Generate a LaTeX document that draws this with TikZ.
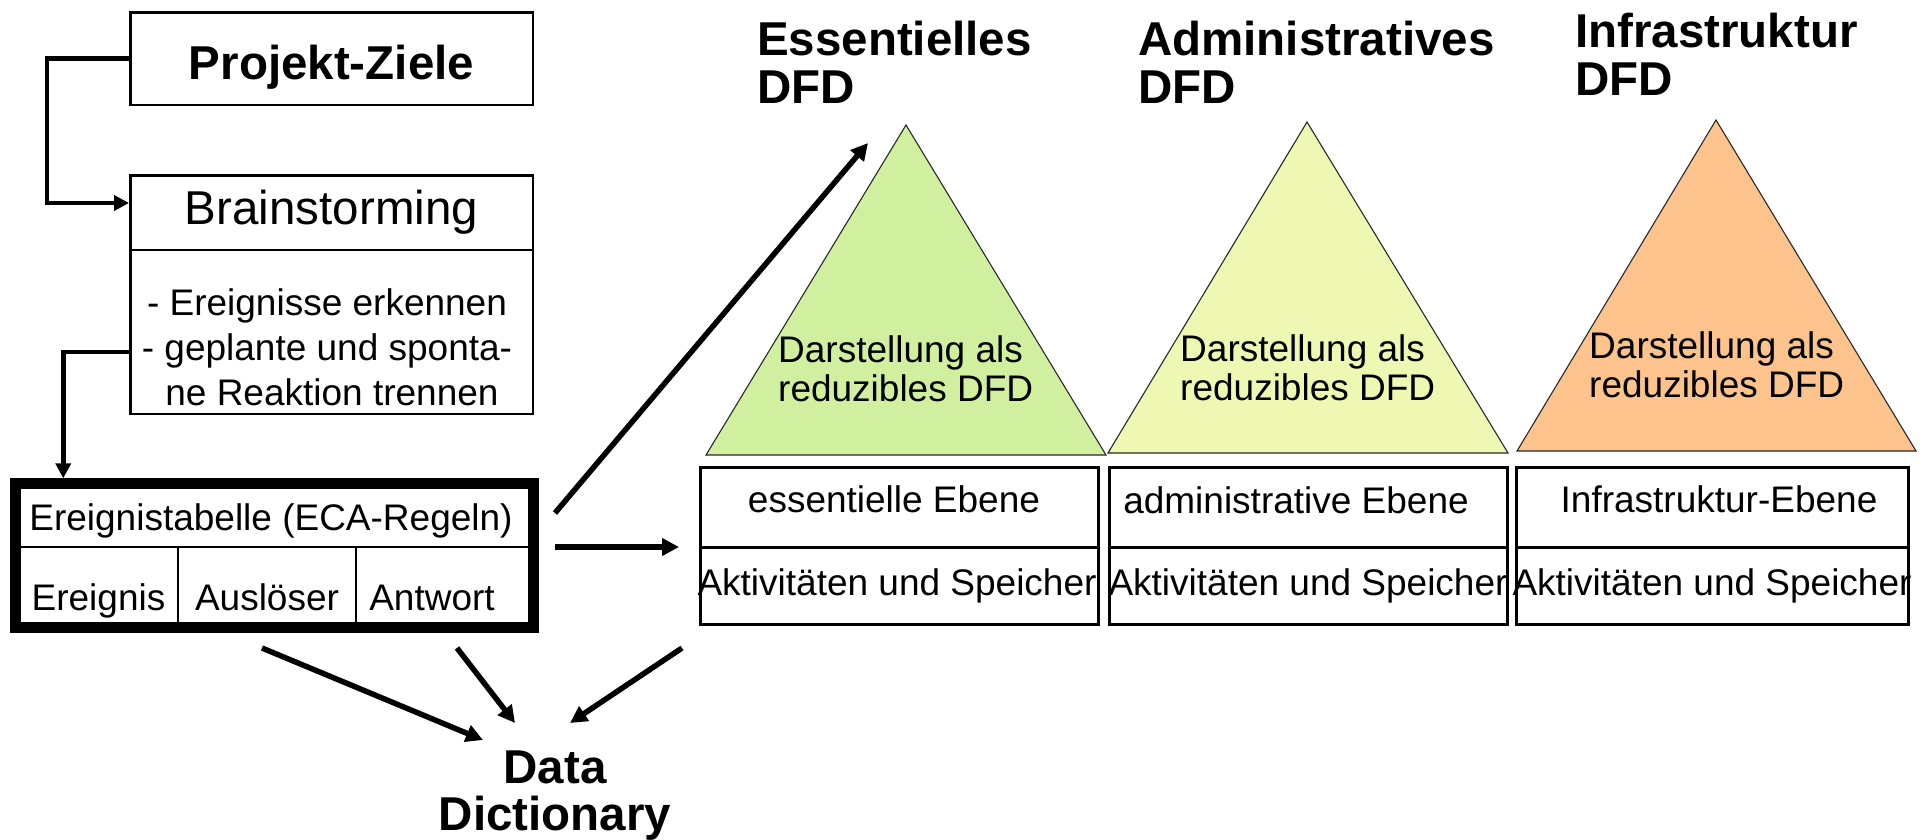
\documentclass[tikz,border=0pt]{standalone}
\usepackage{fontspec}
\setmainfont{Liberation Sans}
\usetikzlibrary{arrows.meta,calc}
\definecolor{essgreen}{RGB}{208,240,160}
\definecolor{admyellow}{RGB}{238,248,178}
\definecolor{infraorange}{RGB}{252,196,140}
\definecolor{triedge}{RGB}{40,40,40}
\begin{document}
\begin{tikzpicture}[x=1pt,y=-1pt,
  box/.style={draw, line width=2.5pt, inner sep=0pt},
  dfdbox/.style={draw, line width=3pt, inner sep=0pt, minimum height=157pt},
  thin/.style={line width=2pt},
  conn/.style={line width=4.8pt, -{Triangle[length=15pt,width=15pt]}},
  arr/.style={line width=5.5pt, -{Triangle[length=17pt,width=17pt]}},
  body/.style={inner sep=0pt, anchor=base, font=\fontsize{37}{45}\selectfont},
  bodyleft/.style={body, anchor=base west},
  big/.style={inner sep=0pt, anchor=base, font=\fontsize{47.5}{48}\selectfont},
  bigbold/.style={inner sep=0pt, anchor=base, font=\fontsize{47.5}{48}\selectfont\bfseries},
  title/.style={bigbold, anchor=base west},
  tri/.style={draw=triedge, line width=1.1pt, line join=miter}]
\useasboundingbox (0,0) rectangle (1930,839);

% left column: goals, brainstorming, event table
\node[box, minimum width=402.5pt, minimum height=92.5pt] (pz) at (331.5,58.5) {};
\node[bigbold] (pztext) at (331.5,79) {Projekt-Ziele};

\node[box, minimum width=402.5pt, minimum height=238.5pt] (bs) at (331.5,294.5) {};
\draw[line width=2.5pt] (bs.west |- 0,250) -- (bs.east |- 0,250);
\node[big] (bstitle) at (331.5,224) {Brainstorming};
\node[body] (bsline1) at (327,315) {- Ereignisse erkennen};
\node[body] (bsline2) at (327,360) {- geplante und sponta-};
\node[body] (bsline3) at (332,405) {ne Reaktion trennen};

\node[draw, line width=10.5pt, inner sep=0pt, minimum width=518pt, minimum height=144pt] (et) at (274.5,555.5) {};
\draw[thin] (21,547) -- (528,547);
\draw[thin] (178,547) -- (178,622);
\draw[thin] (356,547) -- (356,622);
\node[body] (ettitle) at (271,530) {Ereignistabelle (ECA-Regeln)};
\node[body] (etcol1) at (98.5,610) {Ereignis};
\node[body] (etcol2) at (267,610) {Auslöser};
\node[body] (etcol3) at (432,610) {Antwort};

\draw[conn] (pz.west) -- ++(-82,0) |- ([yshift=-29pt]bs.north west);
\draw[conn] ([yshift=63pt]bs.south west) -| ([xshift=53pt]et.north west);

% data dictionary
\node[bigbold] (dd1) at (555,783) {Data};
\node[bigbold] (dd2) at (555,830) {Dictionary};

% triangles of the three DFD kinds
\fill[essgreen] (706,455) -- (906,125) -- (1106,455) -- cycle;
\draw[tri] (706,455) -- (906,125) -- (1106,455) -- cycle;
\fill[admyellow] (1108,453) -- (1307,122) -- (1508,453) -- cycle;
\draw[tri] (1108,453) -- (1307,122) -- (1508,453) -- cycle;
\fill[infraorange] (1517,451) -- (1716,120) -- (1916,451) -- cycle;
\draw[tri] (1517,451) -- (1716,120) -- (1916,451) -- cycle;

\node[bodyleft] (esst1) at (778,362) {Darstellung als};
\node[bodyleft] (esst2) at (778,401) {reduzibles DFD};
\node[bodyleft] (admt1) at (1180,361) {Darstellung als};
\node[bodyleft] (admt2) at (1180,400) {reduzibles DFD};
\node[bodyleft] (inft1) at (1589,358) {Darstellung als};
\node[bodyleft] (inft2) at (1589,397) {reduzibles DFD};

% titles
\node[title] (esshead1) at (757,55) {Essentielles};
\node[title] (esshead2) at (757,103) {DFD};
\node[title] (admhead1) at (1138,55) {Administratives};
\node[title] (admhead2) at (1138,103) {DFD};
\node[title] (infhead1) at (1575,47) {Infrastruktur};
\node[title] (infhead2) at (1575,95) {DFD};

% level boxes
\node[dfdbox, minimum width=398pt] (ess) at (899.5,546) {};
\draw[line width=3pt] (ess.west |- 0,547) -- (ess.east |- 0,547);
\node[dfdbox, minimum width=398pt] (adm) at (1308.5,546) {};
\draw[line width=3pt] (adm.west |- 0,547) -- (adm.east |- 0,547);
\node[dfdbox, minimum width=392pt] (inf) at (1712.5,546) {};
\draw[line width=3pt] (inf.west |- 0,547) -- (inf.east |- 0,547);

\node[body] (esslevel) at (894,512) {essentielle Ebene};
\node[body] (essact) at (897,595) {Aktivitäten und Speicher};
\node[body] (admlevel) at (1296,513) {administrative Ebene};
\node[body] (admact) at (1308,595) {Aktivitäten und Speicher};
\node[body] (inflevel) at (1719,512) {Infrastruktur-Ebene};
\node[body] (infact) at (1712,595) {Aktivitäten und Speicher};

% arrows leaving the event table
\coordinate (upstart) at (555,513);
\coordinate (uptip) at (868,143);
\coordinate (rightstart) at (555,547);
\coordinate (righttip) at (679,547);
\draw[arr] (upstart) -- (uptip);
\draw[arr] (rightstart) -- (righttip);

% arrows into the data dictionary
\coordinate (dda) at (262,648);
\coordinate (ddatip) at (483,740);
\coordinate (ddb) at (457,648);
\coordinate (ddbtip) at (515,723);
\coordinate (ddc) at (682,648);
\coordinate (ddctip) at (570,723);
\draw[arr] (dda) -- (ddatip);
\draw[arr] (ddb) -- (ddbtip);
\draw[arr] (ddc) -- (ddctip);
\end{tikzpicture}
\end{document}
